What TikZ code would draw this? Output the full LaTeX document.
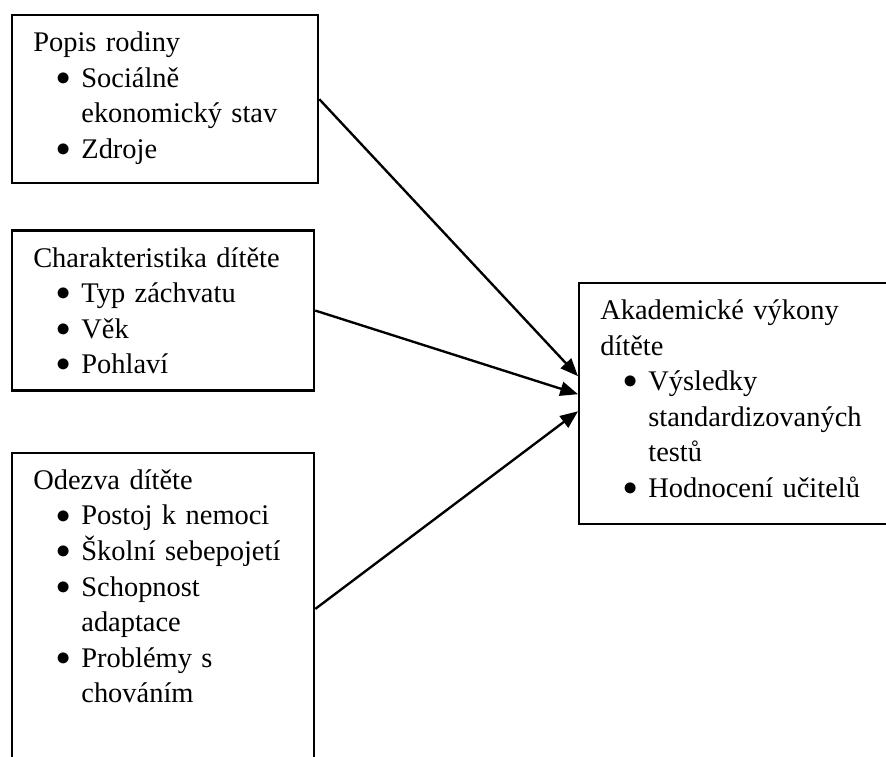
\documentclass[tikz,border=0pt]{standalone}
\usepackage{fontspec}
\setmainfont{Liberation Serif}
\usetikzlibrary{arrows.meta,positioning}

% bullet item with hanging indent
\newcommand{\polozka}[1]{\par{\leftskip=20.3pt\noindent\llap{\makebox[15.2pt]{\raisebox{0.8pt}{$\bullet$}}}#1\par}}

\tikzset{
  ramec/.style={draw, rectangle, line width=1pt, inner xsep=8.9pt, inner ysep=0pt,
    text height=15.4pt, anchor=north west, font=\fontsize{12pt}{15pt}\selectfont},
  sipka/.style={line width=1pt, -{Triangle[length=7.5pt,width=6pt]}}
}

\begin{document}
\begin{tikzpicture}[x=0.422pt, y=-0.422pt]
  \clip (0,0) rectangle (886,756);
  % levy sloupec
  \node[ramec, text width=111.3pt, text depth=55.5pt] (rodina) at (11,14)
    {Popis rodiny
     \polozka{Sociálně\\ ekonomický stav}
     \polozka{Zdroje}};
  \node[ramec, text width=109.6pt, text depth=52.1pt, below=19pt of rodina.south west, anchor=north west] (dite)
    {Charakteristika dítěte
     \polozka{Typ záchvatu}
     \polozka{Věk}
     \polozka{Pohlaví}};
  \node[ramec, text width=109.6pt, text depth=116.3pt, below=25.3pt of dite.south west, anchor=north west] (odezva)
    {Odezva dítěte
     \polozka{Postoj k nemoci}
     \polozka{Školní sebepojetí}
     \polozka{Schopnost\\ adaptace}
     \polozka{Problémy s\\ chováním}};
  % pravy box
  \node[ramec, text width=117.2pt, text depth=86.3pt] (vykon) at (578,282)
    {Akademické výkony\\ dítěte
     \polozka{Výsledky\\ standardizovaných\\ testů}
     \polozka{Hodnocení učitelů}};
  % sipky
  \draw[sipka] (rodina.east) -- ([yshift=11.6pt]vykon.west);
  \draw[sipka] (dite.east) -- ([yshift=4pt]vykon.west);
  \draw[sipka] (odezva.east) -- ([yshift=-3.2pt]vykon.west);
\end{tikzpicture}
\end{document}
